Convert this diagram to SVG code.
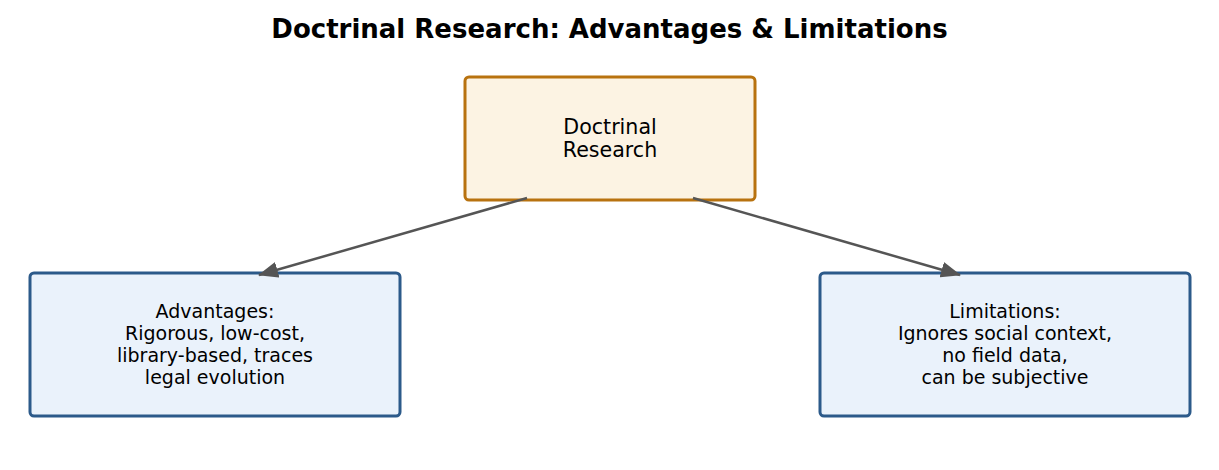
<svg xmlns="http://www.w3.org/2000/svg" width="1219" height="470" viewBox="0 0 1219 470">
<style>
.t{font-family:"DejaVu Sans",sans-serif;fill:#000;text-anchor:middle}
.title{font-size:26px;font-weight:bold}
.main{fill:#fcf3e3;stroke:#b8720f;stroke-width:3}
.sub{fill:#eaf2fb;stroke:#2c5a8a;stroke-width:3}
.edge{stroke:#555;stroke-width:2.5;fill:none}
</style>
<defs>
<marker id="ah" viewBox="0 0 20 16" refX="19" refY="8" markerWidth="20" markerHeight="16" markerUnits="userSpaceOnUse" orient="auto">
<path d="M0,0 L20,8 L0,16 z" fill="#555"/>
</marker>
</defs>
<rect width="1219" height="470" fill="#fff"/>
<text class="t title" x="609.5" y="38">Doctrinal Research: Advantages &amp; Limitations</text>
<g id="node-doctrinal">
<rect class="main" x="465" y="77" width="290" height="123" rx="4"/>
<text class="t" font-size="20.6" x="610" y="134">Doctrinal</text>
<text class="t" font-size="20.6" x="610" y="157">Research</text>
</g>
<g id="node-advantages">
<rect class="sub" x="30" y="273" width="370" height="143" rx="4"/>
<text class="t" font-size="19" x="215" y="318">Advantages:</text>
<text class="t" font-size="19" x="215" y="340">Rigorous, low-cost,</text>
<text class="t" font-size="19" x="215" y="362">library-based, traces</text>
<text class="t" font-size="19" x="215" y="384">legal evolution</text>
</g>
<g id="node-limitations">
<rect class="sub" x="820" y="273" width="370" height="143" rx="4"/>
<text class="t" font-size="19" x="1005" y="318">Limitations:</text>
<text class="t" font-size="19" x="1005" y="340">Ignores social context,</text>
<text class="t" font-size="19" x="1005" y="362">no field data,</text>
<text class="t" font-size="19" x="1005" y="384">can be subjective</text>
</g>
<g id="connectors">
<line class="edge" x1="527" y1="198" x2="259" y2="275" marker-end="url(#ah)"/>
<line class="edge" x1="693" y1="198" x2="960" y2="275" marker-end="url(#ah)"/>
</g>
</svg>
